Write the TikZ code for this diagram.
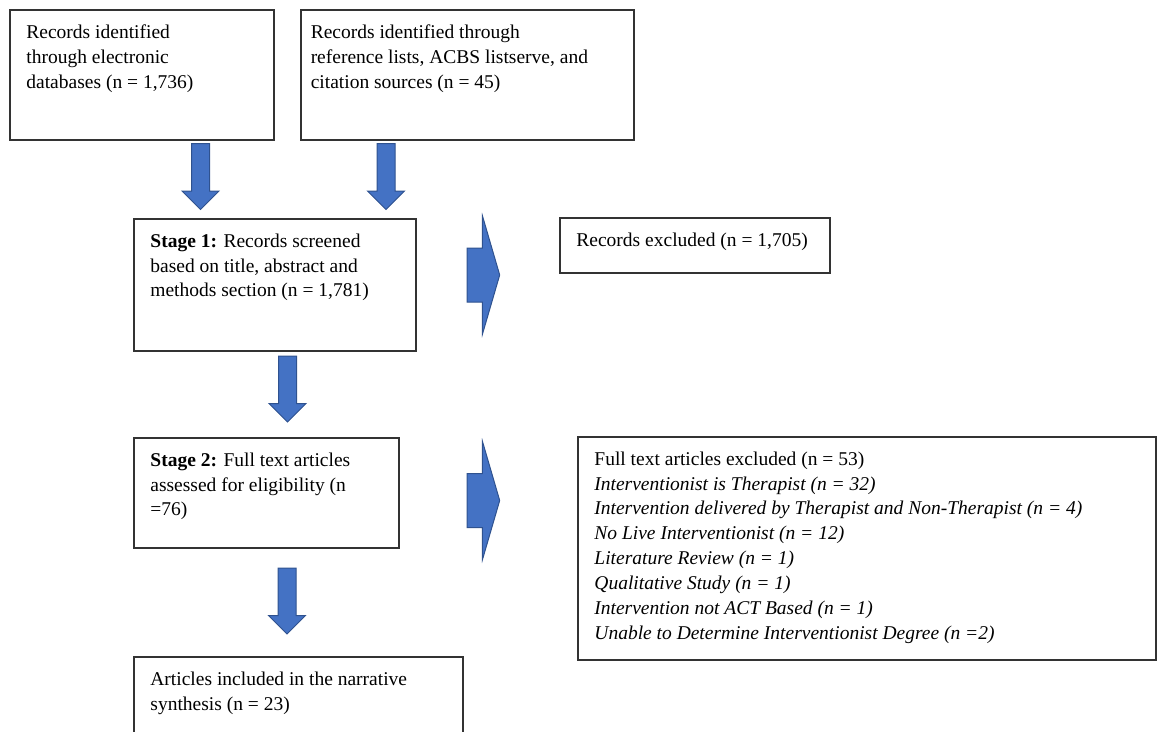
\documentclass[tikz,border=0pt]{standalone}
\usepackage{fontspec}
\setmainfont{Liberation Serif}
\usetikzlibrary{positioning,shapes.arrows}
\definecolor{prBlue} {HTML}{4472C4}
\definecolor{prEdge} {HTML}{2F528F}
\definecolor{prInk}  {HTML}{333333}
\newcommand{\boxtext}[3]{\parbox[t][#2][t]{#1}{\raggedright #3}}

\begin{document}
\begin{tikzpicture}[x=0.6pt,y=-0.6pt,
      font=\fontsize{11.7pt}{14.9pt}\selectfont,
      record/.style={draw=prInk,line width=0.9pt,anchor=north west,
                     inner xsep=10pt,inner ysep=9pt},
      downarrow/.style={single arrow,shape border rotate=270,fill=prBlue,
                     draw=prEdge,line width=0.6pt,inner sep=5.1pt,
                     minimum width=21.6pt,minimum height=39.6pt,
                     single arrow head extend=5.7pt},
      sidearrow/.style={single arrow,fill=prBlue,draw=prEdge,line width=0.6pt,
                     inner xsep=0pt,inner ysep=15.9pt,minimum width=70pt,
                     minimum height=19.5pt,single arrow head extend=19.2pt,
                     single arrow tip angle=147.5}]

    \useasboundingbox (0,0) rectangle (1158,731);

    % identification
    \node[record] (db) at (9,9)
      {\boxtext{138.4pt}{60pt}{Records identified\\through electronic\\databases (n = 1,736)}};
    \node[record,inner xsep=6pt] (refs) at (300,9)
      {\boxtext{187.8pt}{60pt}{Records identified through\\reference lists, ACBS listserve, and\\citation sources (n = 45)}};

    % screening
    \node[record] (stageone) at (133,218)
      {\boxtext{149.2pt}{61.2pt}{\textbf{Stage 1:} Records screened\\based on title, abstract and\\methods section (n = 1,781)}};
    \node[record] (exclone) at (559,217)
      {\boxtext{142pt}{15pt}{Records excluded (n = 1,705)}};

    % eligibility
    \node[record] (stagetwo) at (133,437)
      {\boxtext{139pt}{48pt}{\textbf{Stage 2:} Full text articles\\assessed for eligibility (n\\=76)}};
    \node[record] (excltwo) at (577,436)
      {\boxtext{326.8pt}{115.8pt}{Full text articles excluded (n = 53)\\
        \textit{Interventionist is Therapist (n = 32)}\\
        \textit{Intervention delivered by Therapist and Non-Therapist (n = 4)}\\
        \textit{No Live Interventionist (n = 12)}\\
        \textit{Literature Review (n = 1)}\\
        \textit{Qualitative Study (n = 1)}\\
        \textit{Intervention not ACT Based (n = 1)}\\
        \textit{Unable to Determine Interventionist Degree (n =2)}}};

    % included
    \node[record] (incl) at (133,656)
      {\boxtext{177.4pt}{35.4pt}{Articles included in the narrative\\synthesis (n = 23)}};

    % block arrows
    \node[downarrow] (dbdown)   at (200.5,172) {};
    \node[downarrow] (refsdown) at (386,172) {};
    \node[downarrow] (onedown)  at (287.5,384.5) {};
    \node[downarrow] (twodown)  at (287,596.5) {};
    \node[sidearrow] (oneside)  at (479.5,275) {};
    \node[sidearrow] (twoside)  at (479.5,500.5) {};
  \end{tikzpicture}
\end{document}
